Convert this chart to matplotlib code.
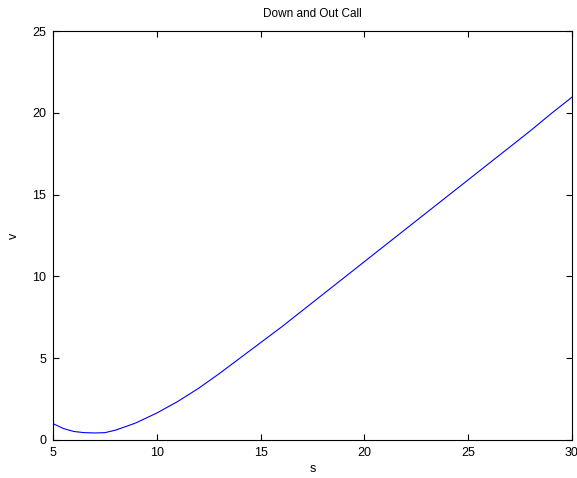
import numpy as np
from matplotlib import pyplot as plt

plt.rcParams['font.family'] = ['Liberation Sans', 'DejaVu Sans']

# asset price and option value along the grid
s = [5, 5.5, 6, 6.5, 7, 7.5, 8, 8.5, 9, 10, 11, 12, 13, 14, 15, 16, 17, 18,
     19, 20, 21, 22, 23, 24, 25, 26, 27, 28, 29, 30]
v = [1.0, 0.7, 0.52, 0.45, 0.43, 0.45, 0.6, 0.82, 1.05, 1.65, 2.35, 3.15,
     4.05, 5.0, 5.95, 6.9, 7.9, 8.9, 9.9, 10.9, 11.9, 12.9, 13.9, 14.9,
     15.9, 16.9, 17.9, 18.9, 19.95, 20.95]

fig = plt.figure(figsize=(5.77, 4.78), dpi=100)
ax = fig.add_axes([0.092, 0.0795, 0.899, 0.8555])

ax.plot(s, v, color='blue', linewidth=0.8)
ax.set_xlim(5, 30)
ax.set_ylim(0, 25)
ax.set_xticks([5, 10, 15, 20, 25, 30])
ax.set_yticks([0, 5, 10, 15, 20, 25])
ax.tick_params(direction='in', top=True, right=True, labelsize=9, length=4, pad=5)
for sp in ax.spines.values():
    sp.set_linewidth(0.8)

ax.set_title('Down and Out Call', fontsize=8.5, pad=10)
ax.set_xlabel('s', fontsize=9, labelpad=3)
ax.set_ylabel('v', fontsize=9, labelpad=9)

fig.savefig('out.png', dpi=100)
